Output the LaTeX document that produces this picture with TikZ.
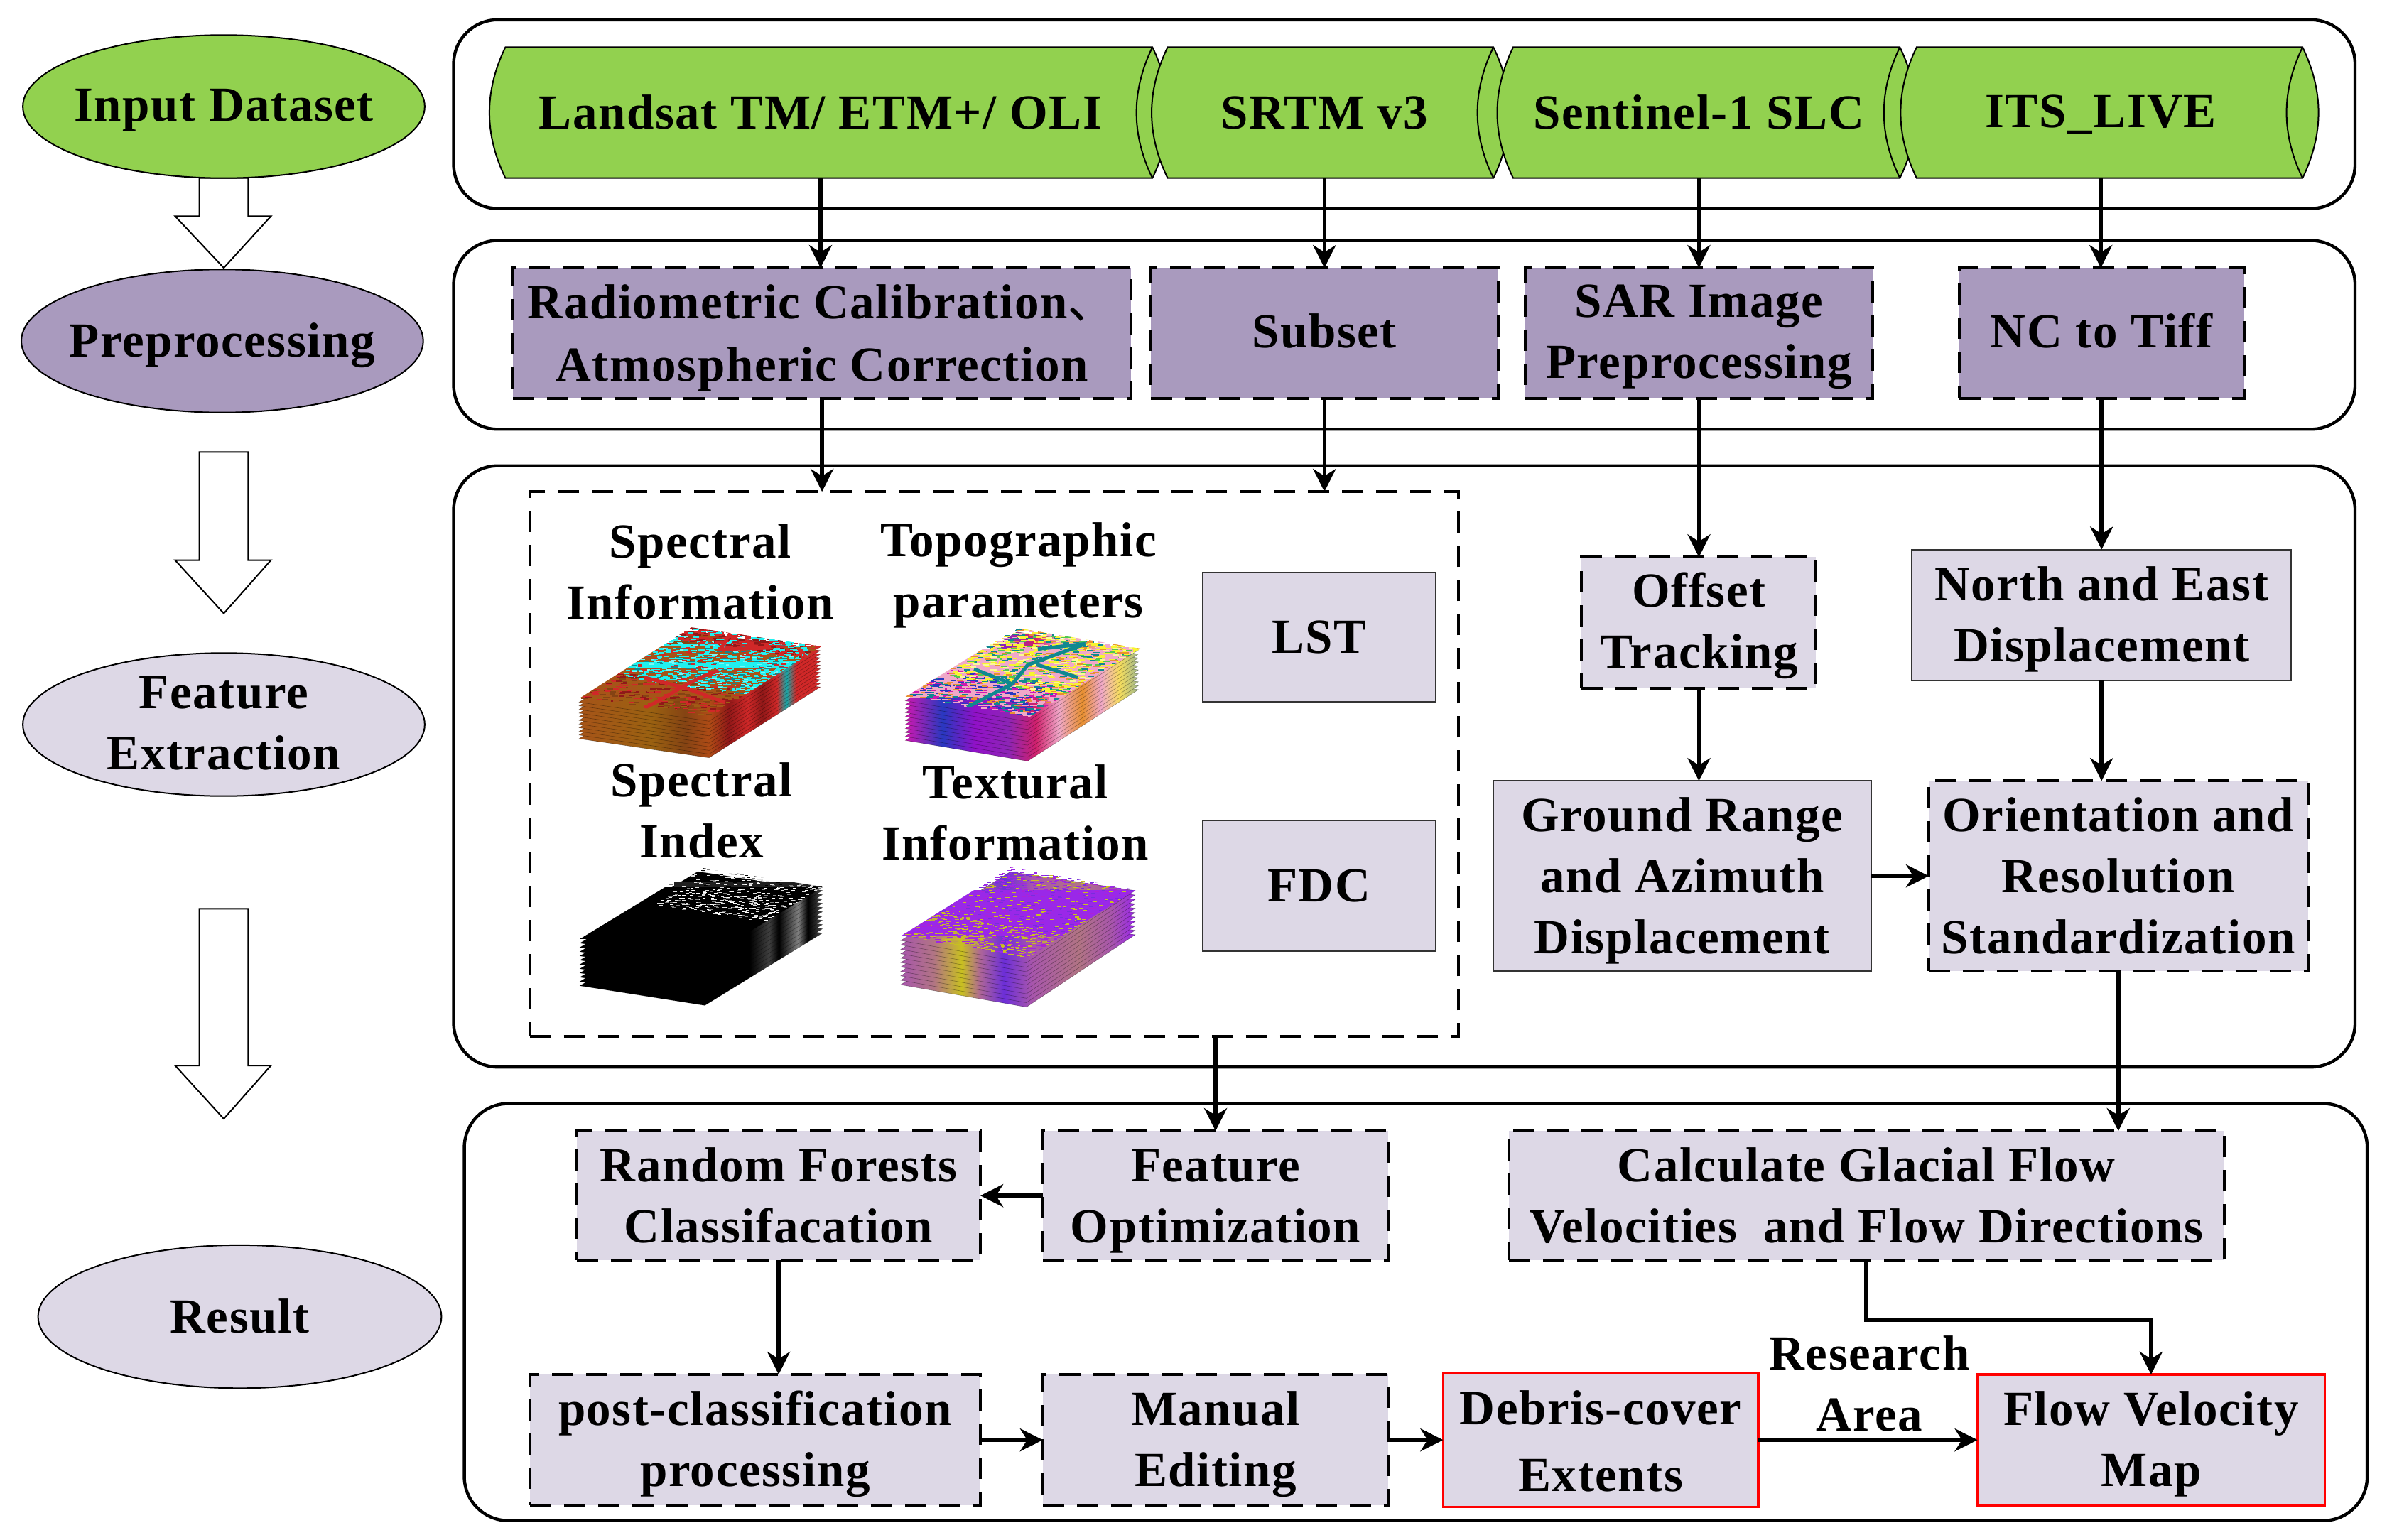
\documentclass[tikz,border=0pt]{standalone}
\usepackage{fontspec}
\setmainfont{Liberation Serif}[LetterSpace=2.3]
\newfontfamily\cjk{Noto Sans CJK SC}
\usetikzlibrary{shapes.geometric,arrows.meta,calc}
\definecolor{gr}{HTML}{92D14F}
\definecolor{pu}{HTML}{A99ABE}
\definecolor{li}{HTML}{DDD8E6}
\definecolor{cyn}{HTML}{20F0F0}
\definecolor{tea}{HTML}{108890}
\definecolor{rd}{HTML}{D02828}
\definecolor{drd}{HTML}{901818}
\definecolor{brn}{HTML}{A65418}
\definecolor{yl}{HTML}{F8F430}
\definecolor{grn}{HTML}{50C850}
\definecolor{org}{HTML}{E89030}
\definecolor{pnk}{HTML}{F0A8C8}
\definecolor{mg}{HTML}{D018B0}
\definecolor{blu}{HTML}{2838C0}
\definecolor{vio}{HTML}{9A28E8}
\definecolor{yol}{HTML}{C8C020}
\definecolor{gw}{HTML}{E0E0E0}
\definecolor{gm}{HTML}{808080}
\pgfdeclarehorizontalshading{shA}{100bp}{color(0bp)=(brn); color(25bp)=(brn); color(40bp)=(brn!70!olive); color(47bp)=(brn!80!black); color(52bp)=(brn!90!red); color(56bp)=(drd); color(60bp)=(rd); color(63bp)=(drd); color(66bp)=(rd); color(68bp)=(cyn!70!black); color(70bp)=(rd); color(75bp)=(rd); color(100bp)=(rd)}
\pgfdeclarehorizontalshading{shB}{100bp}{color(0bp)=(mg); color(25bp)=(mg); color(33bp)=(blu); color(40bp)=(mg!70!blue); color(47bp)=(mg!60!blu); color(53bp)=(rd!50!mg); color(58bp)=(pnk); color(63bp)=(org); color(67bp)=(pnk); color(71bp)=(yl!70!pnk); color(75bp)=(grn!50!pnk); color(100bp)=(pnk)}
\pgfdeclarehorizontalshading{shC}{100bp}{color(0bp)=(black); color(55bp)=(black); color(60bp)=(black); color(64bp)=(gm!50!black); color(66bp)=(black); color(70bp)=(gm); color(72bp)=(black); color(75bp)=(gm!60!black); color(100bp)=(black)}
\pgfdeclarehorizontalshading{shD}{100bp}{color(0bp)=(vio); color(25bp)=(vio!70!yol); color(32bp)=(vio!50!yol); color(38bp)=(yol); color(42bp)=(vio!60!yol); color(47bp)=(vio!60!blu); color(53bp)=(vio!70!yol); color(58bp)=(vio!60!yol); color(63bp)=(vio!50!yol); color(70bp)=(vio!70!yol); color(75bp)=(vio); color(100bp)=(vio)}
\pgfmathdeclarerandomlist{lcy}{{cyn}{cyn}{cyn}{cyn}{cyn}{tea}{rd}{cyn!60!white}}
\pgfmathdeclarerandomlist{lrd}{{rd}{rd}{drd}{cyn}}
\pgfmathdeclarerandomlist{lbr}{{brn}{brn!80!black}{drd}{brn!80!olive}{rd}}
\pgfmathdeclarerandomlist{ltp}{{yl}{yl}{yl}{grn}{org}{pnk}{tea}{pnk}{yl!50!white}}
\pgfmathdeclarerandomlist{ltf}{{mg}{blu}{pnk}{org}{tea}{pnk}}
\pgfmathdeclarerandomlist{lgr}{{gw}{gw}{gm}{black}{white}}
\pgfmathdeclarerandomlist{lvi}{{vio}{vio}{vio!70!blu}{vio!70!mg}{yol}}
\pgfmathdeclarerandomlist{lyl}{{vio}{yol}{yol!80!vio}{vio!70!mg}}
\newcommand\speck[7]{\foreach \k in {1,...,#6}{%
  \pgfmathsetmacro\ux{#2+rnd*(#3-#2)}\pgfmathsetmacro\uy{#4+rnd*(#5-#4)}%
  \pgfmathrandomitem{\cc}{#1}%
  \fill[\cc] (\ux,\uy) rectangle ++(#7,#7);}}
% layered stack: shading, dy, top-face path
\newcommand\stack[3]{\foreach \i in {11,...,1}{%
  \begin{scope}[shift={(0,\i*#2)}]\shadedraw[shading=#1,draw=black,draw opacity=.35,line width=.3pt] #3;\end{scope}}}
% text with a fixed box: #1 = shift downwards in picture units
\newcommand\tx[2]{\rule{0pt}{\dimexpr35pt+#1pt*1071/1000\relax}#2\rule[\dimexpr-12.2pt+#1pt*1071/1000\relax]{0pt}{0pt}}
\newcommand\bx[8][]{%
  \pgfmathsetlengthmacro\bw{(#5-#3)*1.0714pt}\pgfmathsetlengthmacro\bh{(#6-#4)*1.0714pt}%
  \node[#1,minimum width=\bw,minimum height=\bh] (#2) at ({(#3+#5)/2},{(#4+#6)/2}) {\tx{#7}{#8}};}
\newcommand\cyl[6]{% name xl xr textx dy text
  \filldraw[cylb] (#2,31) .. controls (#2-14,60) and (#2-14,88) .. (#2,117) -- (#3,117)
     .. controls (#3+14,88) and (#3+14,60) .. (#3,31) -- cycle;
  \draw[cylb] (#3,31) .. controls (#3-14,60) and (#3-14,88) .. (#3,117);
  \node[inner sep=0,outer sep=0,minimum width=107pt,minimum height=92.14pt] (#1) at (#4,74) {\tx{#5}{#6}};}
\tikzset{
  every node/.style={font=\fontsize{34.5}{43}\selectfont\bfseries,align=center,inner sep=0pt,outer sep=0pt},
  outerbox/.style={draw,line width=2.2pt,rounded corners=31pt},
  cylb/.style={draw=black,fill=gr,line width=1pt},
  dsh/.style={draw,line width=2pt,dash pattern=on 15pt off 9pt},
  dpu/.style={dsh,fill=pu},
  dli/.style={dsh,fill=li},
  sli/.style={draw=black!80,line width=1pt,fill=li},
  red box/.style={draw=red,line width=1.6pt,fill=li},
  ell/.style={ellipse,draw=black,line width=1pt,inner xsep=-30pt,inner ysep=-15pt},
  block/.style={draw=black,fill=white,line width=1pt},
  arr/.style={line width=2.8pt,-{Stealth[length=16pt,width=16pt,inset=5pt]}},
}
\begin{document}
\begin{tikzpicture}[x=1.0714pt,y=-1.0714pt]
\useasboundingbox (0,0) rectangle (1568,1011.7);
% outer rounded frames
\draw[outerbox] (298,13) rectangle (1547,137);
\draw[outerbox] (298,158) rectangle (1547,282);
\draw[outerbox] (298,306) rectangle (1547,701);
\draw[outerbox] (305,725) rectangle (1555,999);
% block arrows
\draw[block] (131,117) -- (163,117) -- (163,142) -- (178,142) -- (147,176) -- (115,142) -- (131,142) -- cycle;
\draw[block] (131,297) -- (163,297) -- (163,368) -- (178,368) -- (147,403) -- (115,368) -- (131,368) -- cycle;
\draw[block] (131,597) -- (163,597) -- (163,700) -- (178,700) -- (147,735) -- (115,700) -- (131,700) -- cycle;
% stage ellipses
\bx[ell,fill=gr]{e1}{15}{23}{279}{117}{-1}{Input Dataset}
\bx[ell,fill=pu]{e2}{14}{177}{278}{271}{0}{Preprocessing}
\bx[ell,fill=li]{e3}{15}{429}{279}{523}{-1}{Feature\\Extraction}
\bx[ell,fill=li]{e4}{25}{818}{290}{912}{0}{Result}
% data cylinders
\cyl{c1}{332}{757}{539}{0}{Landsat TM/ ETM+/ OLI}
\cyl{c2}{767}{981}{870}{0}{SRTM v3}
\cyl{c3}{994}{1248}{1116}{0}{Sentinel-1 SLC}
\cyl{c4}{1259}{1512.5}{1380}{-1}{ITS\_LIVE}
% preprocessing
\bx[dpu]{p1}{337}{176}{743}{262}{0}{Radiometric Calibration{\cjk\mdseries 、}\\[1pt]Atmospheric Correction}
\bx[dpu]{p2}{756}{176}{984}{262}{-1}{Subset}
\bx[dpu]{p3}{1002}{176}{1230}{262}{-1}{SAR Image\\Preprocessing}
\bx[dpu]{p4}{1287}{176}{1474}{262}{-1}{NC to Tiff}
% feature extraction
\bx[dsh]{big}{348}{323}{958}{681}{0}{}
\node (lb1) at (460,376) {\tx{0}{Spectral\\Information}};
\node (lb2) at (669,375) {\tx{0}{Topographic\\parameters}};
\node (lb3) at (461,533) {\tx{0}{Spectral\\Index}};
\node (lb4) at (667,534) {\tx{0}{Textural\\Information}};
\bx[sli]{lst}{790}{376}{943}{461}{0}{LST}
\bx[sli]{fdc}{790}{539}{943}{625}{0}{FDC}
\bx[dli]{off}{1039}{366}{1193}{452}{-1}{Offset\\Tracking}
\bx[sli]{ne}{1256}{361}{1505}{447}{0}{North and East\\Displacement}
\bx[sli]{grd}{981}{513}{1229}{638}{0}{Ground Range\\and Azimuth\\Displacement}
\bx[dli]{ori}{1267}{513}{1516}{638}{0}{Orientation and\\Resolution\\Standardization}
% result
\bx[dli]{rf}{379}{743}{644}{828}{0}{Random Forests\\Classifacation}
\bx[dli]{fo}{685}{743}{912}{828}{0}{Feature\\Optimization}
\bx[dli]{calc}{991}{743}{1461}{828}{0}{Calculate Glacial Flow\\Velocities\ \ and Flow Directions}
\bx[dli]{post}{348}{903}{644}{989}{0}{post-classification\\processing}
\bx[dli]{man}{685}{903}{912}{989}{0}{Manual\\Editing}
\bx[red box]{deb}{948}{903}{1155}{989}{1}{Debris-cover\\[4pt]Extents}
\bx[red box]{flow}{1299}{903}{1527}{989}{0}{Flow Velocity\\Map}
\node (ra) at (1228,909.5) {\tx{0}{Research\\Area}};
% image stacks
\pgfmathsetseed{42}
\def\faceA{(380.4,458.9)--(454,412.1)--(538.8,425)--(465.8,471.4)--cycle}
\stack{shA}{2.4}{\faceA}
\begin{scope}[shift={(380.4,458.9)},x={(91.5pt,-13.4pt)},y={(78.9pt,50.1pt)}]
  \clip (0,0)--(1,0)--(1,1)--(0,1)--cycle;
  \fill[brn] (0,0) rectangle (1,1);
  \fill[cyn] (0,.42) rectangle (1,.78);
  \speck{lcy}{0}{1}{.3}{.88}{1100}{.02}
  \speck{lrd}{0}{1}{.82}{1}{350}{.025}
  \speck{lbr}{0}{1}{0}{.35}{350}{.025}
  \draw[rd,line width=2.5pt] (.5,0) .. controls (.55,.2) and (.5,.4) .. (.6,.55) (.55,.3) -- (.2,.35) (.55,.3) -- (.95,.2) (.3,1) -- (.4,.8) -- (.7,.9);
\end{scope}
\def\faceB{(594.7,457.8)--(668,412.6)--(747.7,424.5)--(675,471.4)--cycle}
\stack{shB}{2.6}{\faceB}
\begin{scope}[shift={(594.7,457.8)},x={(86.9pt,-14.4pt)},y={(78.5pt,48.4pt)}]
  \clip (0,0)--(1,0)--(1,1)--(0,1)--cycle;
  \fill[pnk] (0,0) rectangle (1,1);
  \speck{ltf}{0}{1}{0}{.4}{700}{.025}
  \speck{ltp}{0}{1}{.3}{1}{1100}{.025}
  \draw[tea,line width=2.5pt] (.5,0) -- (.55,.35) -- (.45,.6) -- (.6,.95) (.55,.35) -- (.15,.45) (.5,.62) -- (.9,.55) (.6,.95) -- (.35,.8);
\end{scope}
\def\faceC{(381,616.8)--(458.4,569.8)--(540.2,582.2)--(463,629.7)--cycle}
\stack{shC}{2.8}{\faceC}
\begin{scope}[shift={(381,616.8)},x={(88.2pt,-13.8pt)},y={(82.9pt,50.4pt)}]
  \clip (0,0)--(1,0)--(1,1)--(0,1)--cycle;
  \fill[black] (0,0) rectangle (1,1);
  \fill[gm!25!black] (.0,.8) rectangle (1,1);
  \speck{lgr}{.1}{1}{.5}{.75}{450}{.014}
  \speck{lgr}{0}{1}{.75}{1}{250}{.014}
\end{scope}
\def\faceD{(591.7,615)--(663.7,569.8)--(745.6,582.2)--(674.2,629.7)--cycle}
\stack{shD}{2.9}{\faceD}
\begin{scope}[shift={(591.7,615)},x={(88.4pt,-15.8pt)},y={(77.1pt,48.4pt)}]
  \clip (0,0)--(1,0)--(1,1)--(0,1)--cycle;
  \fill[vio] (0,0) rectangle (1,1);
  \speck{lvi}{0}{1}{.3}{1}{1100}{.016}
  \speck{lyl}{0}{1}{0}{.35}{800}{.016}
\end{scope}
% connectors
\draw[arr] (c1.south) -- (c1.south |- p1.north);
\draw[arr] (c2.south) -- (c2.south |- p2.north);
\draw[arr] (c3.south) -- (c3.south |- p3.north);
\draw[arr] (c4.south) -- (c4.south |- p4.north);
\draw[arr] (p1.south) -- (p1.south |- big.north);
\draw[arr] (p2.south) -- (p2.south |- big.north);
\draw[arr] (p3.south) -- (off.north);
\draw[arr] (p4.south) -- (p4.south |- ne.north);
\draw[arr] (off.south) -- (off.south |- grd.north);
\draw[arr] (ne.south) -- (ne.south |- ori.north);
\draw[arr] (grd.east) -- (ori.west);
\draw[arr] (fo.north |- big.south) -- (fo.north);
\draw[arr] (ori.south) -- (ori.south |- calc.north);
\draw[arr] (fo.west) -- (rf.east);
\draw[arr] (rf.south) -- (rf.south |- post.north);
\draw[arr] (post.east) -- (man.west);
\draw[arr] (man.east) -- (deb.west);
\draw[arr] (deb.east) -- (flow.west);
\coordinate (kink) at (1320,867);
\draw[arr] (calc.south) |- (kink) -| (flow.north);
\end{tikzpicture}
\end{document}
